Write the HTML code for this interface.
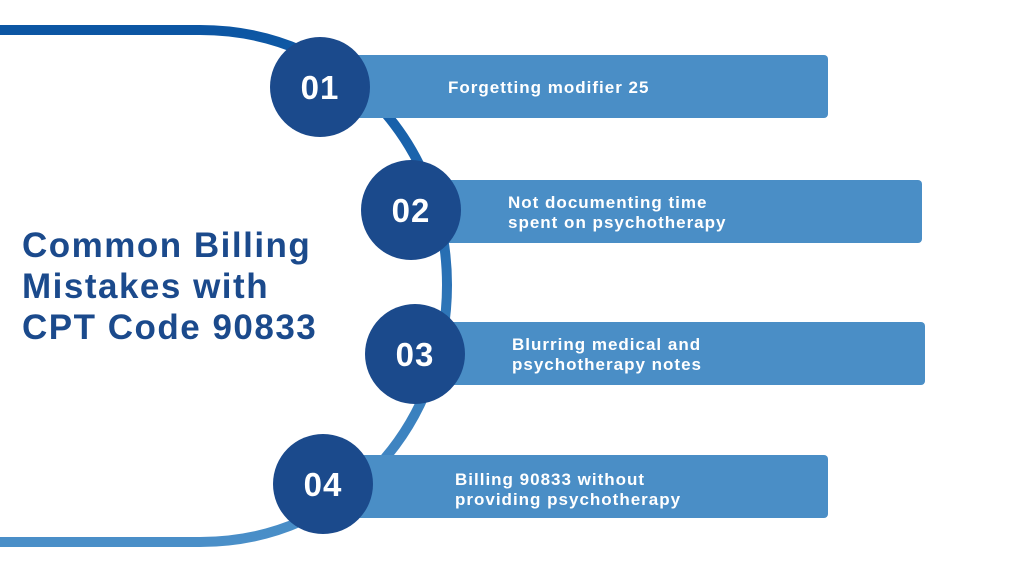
<!DOCTYPE html>
<html><head><meta charset="utf-8"><style>
body{margin:0;width:1024px;height:576px;background:#fff;overflow:hidden;font-family:"Liberation Sans",sans-serif}
</style></head><body>
<svg width="1024" height="576" viewBox="0 0 1024 576" xmlns="http://www.w3.org/2000/svg">
<defs><linearGradient id="g" x1="0" y1="0" x2="0" y2="1"><stop offset="0" stop-color="#0c56a3"/><stop offset="1" stop-color="#4a8fc8"/></linearGradient></defs>
<path d="M0,30 L200,30 C350,30 447,150 447,285 C447,420 350,542 200,542 L0,542" fill="none" stroke="url(#g)" stroke-width="10"/>
<g fill="#4a8ec6">
<rect x="330" y="55" width="498" height="63" rx="4"/>
<rect x="420" y="180" width="502" height="63" rx="4"/>
<rect x="420" y="322" width="505" height="63" rx="4"/>
<rect x="330" y="455" width="498" height="63" rx="4"/>
</g>
<g fill="#1b4a8c">
<circle cx="320" cy="87" r="50"/><circle cx="411" cy="210" r="50"/>
<circle cx="415" cy="354" r="50"/><circle cx="323" cy="484" r="50"/>
</g>
<g fill="#fff" font-weight="bold" font-size="33" text-anchor="middle" letter-spacing="1">
<text x="320" y="99">01</text><text x="411" y="222">02</text>
<text x="415" y="366">03</text><text x="323" y="496">04</text>
</g>
<g fill="#fff" font-weight="bold" font-size="17" letter-spacing="1">
<text x="448" y="93">Forgetting modifier 25</text>
<text x="508" y="208">Not documenting time</text><text x="508" y="228">spent on psychotherapy</text>
<text x="512" y="350">Blurring medical and</text><text x="512" y="370">psychotherapy notes</text>
<text x="455" y="485">Billing 90833 without</text><text x="455" y="505">providing psychotherapy</text>
</g>
<g fill="#1b4a8c" font-weight="bold" font-size="35" letter-spacing="1.5">
<text x="22" y="257">Common Billing</text>
<text x="22" y="298">Mistakes with</text>
<text x="22" y="339">CPT Code 90833</text>
</g>
</svg>
</body></html>
